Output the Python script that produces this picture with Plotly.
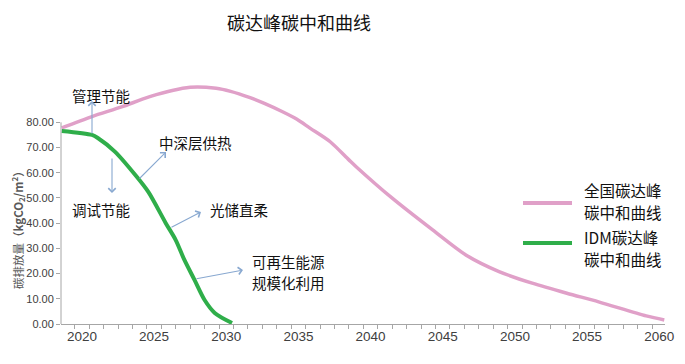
import plotly.graph_objects as go

# ---- data ----
national_years = [2018.6, 2020.7, 2022.8, 2024.7, 2027.5, 2029.3, 2030.3, 2031.6, 2032.6, 2033.9,
                  2034.9, 2035.8, 2037.2, 2038.5, 2039.0, 2041.5, 2044.3, 2046.6, 2048.9, 2051.2,
                  2053.6, 2055.8, 2059.1, 2060.35]
national_values = [77.8, 82.3, 86.2, 90.2, 93.9, 93.5, 92.3, 89.9, 87.6, 84.2,
                   81.2, 77.7, 72.3, 65.1, 62.4, 49.9, 37.3, 27.4, 20.8, 16.2,
                   12.2, 8.8, 3.2, 1.6]

idm_years = [2018.6, 2020.7, 2021.1, 2022.3, 2023.7, 2024.6, 2025.8, 2026.5, 2027.1, 2027.8,
             2028.5, 2029.2, 2030.4]
idm_values = [76.6, 75.0, 73.8, 68.3, 59.1, 52.4, 40.1, 33.3, 25.4, 17.5,
              9.5, 4.4, 0.4]

x_tick_vals = [2020, 2025, 2030, 2035, 2040, 2045, 2050, 2055, 2060]
y_tick_vals = [0, 10, 20, 30, 40, 50, 60, 70, 80]

series_names = ["全国碳达峰碳中和曲线", "IDM碳达峰碳中和曲线"]
legend_lines = [["全国碳达峰", "碳中和曲线"], ["IDM碳达峰", "碳中和曲线"]]
title_text = "碳达峰碳中和曲线"
y_title = "碳排放量<b>（kgCO<sub>2</sub>/m<sup>2</sup>）</b>"

PINK = "#e0a0c8"
GREEN = "#2fae4a"
ARROW = "#88a8d0"
CJK = "Noto Sans CJK SC"

# ---- layout geometry (pixels) ----
# The page body has a default 8px margin, so the figure is drawn 8px right/down;
# shrink the figure so the plot lands at the same window positions as the reference.
OFF = 8
W, H = 685 - OFF, 364 - OFF
L, R, T, B = 61 - OFF, 20, 82 - OFF, 40
PW, PH = W - L - R, H - T - B


def px(x):
    """window pixel x -> paper coordinate"""
    return (x - OFF - L) / PW


def py(y):
    """window pixel y -> paper coordinate"""
    return (H - B - (y - OFF)) / PH


fig = go.Figure()
fig.add_trace(go.Scatter(x=national_years, y=national_values, mode="lines",
                         line=dict(color=PINK, width=3.5, shape="spline", smoothing=0.8),
                         name=series_names[0], showlegend=False))
fig.add_trace(go.Scatter(x=idm_years, y=idm_values, mode="lines",
                         line=dict(color=GREEN, width=4, shape="spline", smoothing=0.8),
                         name=series_names[1], showlegend=False))

shapes = [
    # y axis line (only up to 80)
    dict(type="line", xref="paper", yref="y", x0=0, x1=0, y0=0, y1=80,
         line=dict(color="#a6a6a6", width=1)),
    # legend lines
    dict(type="line", xref="paper", yref="paper", x0=px(523), x1=px(572), y0=py(203), y1=py(203),
         line=dict(color=PINK, width=4)),
    dict(type="line", xref="paper", yref="paper", x0=px(523), x1=px(572), y0=py(243), y1=py(243),
         line=dict(color=GREEN, width=4)),
]

annotations = [
    dict(text=title_text, xref="paper", yref="paper", x=px(299), y=py(22), showarrow=False,
         xanchor="center", yanchor="middle", font=dict(size=18, color="#111111", family=CJK)),
    dict(text=y_title, xref="paper", yref="paper", x=px(18), y=py(227), showarrow=False,
         textangle=-90, xanchor="center", yanchor="middle",
         font=dict(size=11.5, color="#595959", family=CJK)),
]

# legend texts, one annotation per line
for lines, y_first in zip(legend_lines, [189.5, 236.5]):
    for i, ln in enumerate(lines):
        annotations.append(dict(text=ln, xref="paper", yref="paper", x=px(582), y=py(y_first + 22 * i),
                                showarrow=False, xanchor="left", yanchor="middle",
                                font=dict(size=15.5, color="#111111", family=CJK)))

labels = [
    ("管理节能", 70, 95),
    ("调试节能", 70, 209),
    ("中深层供热", 157, 142),
    ("光储直柔", 208, 209),
    ("可再生能源", 250, 261),
    ("规模化利用", 250, 282),
]
for txt, lx, ly in labels:
    annotations.append(dict(text=txt, xref="paper", yref="paper", x=px(lx), y=py(ly),
                            showarrow=False, xanchor="left", yanchor="middle", align="left",
                            font=dict(size=14.5, color="#111111", family=CJK)))

arrows = [
    ((92, 135), (92, 101)),
    ((112, 157), (112, 193)),
    ((138, 180), (166, 152)),
    ((170, 228), (201, 212)),
    ((195, 279), (243, 270)),
]
for (x0, y0), (x1, y1) in arrows:
    annotations.append(dict(text="", xref="paper", yref="paper", x=px(x1), y=py(y1),
                            ax=x0 - x1, ay=y0 - y1, showarrow=True, arrowhead=4,
                            arrowsize=1.3, arrowwidth=1.1, arrowcolor=ARROW, standoff=0))

fig.update_layout(
    width=W, height=H,
    margin=dict(l=L, r=R, t=T, b=B, pad=0),
    paper_bgcolor="white", plot_bgcolor="white",
    shapes=shapes, annotations=annotations,
    showlegend=False,
    xaxis=dict(range=[2018.55, 2060.4], tickvals=x_tick_vals, ticks="",
               showgrid=False, zeroline=False, showline=True, linecolor="#a6a6a6", linewidth=1,
               tickfont=dict(size=13.5, color="#404040", family="Liberation Sans"),
               minor=dict(tick0=0.5, dtick=1, ticks="outside", ticklen=4, tickcolor="#a6a6a6",
                          showgrid=False)),
    yaxis=dict(range=[0, 96], tickvals=y_tick_vals, tickformat=".2f", ticks="outside", ticklen=4,
               tickcolor="#a6a6a6", showgrid=False, zeroline=False, showline=False,
               tickfont=dict(size=11, color="#404040", family="Liberation Sans")),
)

fig.write_html("out.html")
